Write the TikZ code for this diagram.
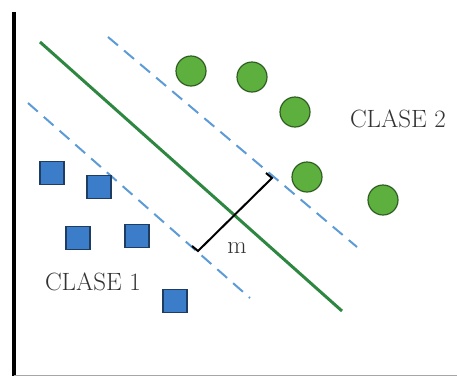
\documentclass[tikz,border=0pt]{standalone}
\usepackage{tikz}
\usepackage{xcolor}
\usetikzlibrary{calc}
\definecolor{clsgreen}{HTML}{5EB03E}
\definecolor{clsgreendark}{HTML}{2F5E22}
\definecolor{clsblue}{HTML}{3B7DC8}
\definecolor{clsbluedark}{HTML}{1F3C63}
\definecolor{hyper}{HTML}{2E8741}
\definecolor{marg}{HTML}{5C9BD6}
\definecolor{txt}{HTML}{333333}

\begin{document}
\begin{tikzpicture}[
    x=1pt, y=-1pt,
    every node/.style={font=\fontsize{25}{30}\selectfont, text=txt, inner sep=0pt},
    dot/.style={circle, draw=clsgreendark, line width=1.2pt, fill=clsgreen, minimum size=30pt},
    sq/.style={rectangle, draw=clsbluedark, line width=1.2pt, fill=clsblue, minimum width=24pt, minimum height=23pt},
    hyp/.style={hyper, line width=3pt},
    mrg/.style={marg, line width=2pt, dash pattern=on 13pt off 8pt},
    gap/.style={black, line width=2pt},
  ]
  \useasboundingbox (0,0) rectangle (457,376);

  \draw[line width=3.5pt] (14,12) -- (14,376);
  \draw[gray!70, line width=1pt] (14,375.5) -- (457,375.5);

  \coordinate (h1) at (40,42);
  \coordinate (h2) at (342,311);
  \coordinate (u1) at (108,37);
  \coordinate (u2) at (357,247);
  \coordinate (l1) at (28,103);
  \coordinate (l2) at (250,298);

  \draw[mrg] (u1) -- (u2);
  \draw[mrg] (l1) -- (l2);
  \draw[hyp] (h1) -- (h2);

  \coordinate (m1) at (272,178);
  \coordinate (m2) at (198,251);
  \draw[gap] ($(m1)+(-6,-5)$) -- (m1) -- (m2) -- ($(m2)+(-6,-5)$);
  \node (m) at (237,248) {m};

  \node[dot] (c1) at (191,71) {};
  \node[dot] (c2) at (252,77) {};
  \node[dot] (c3) at (295,112) {};
  \node[dot] (c4) at (307,177) {};
  \node[dot] (c5) at (383,200) {};

  \node[sq] (s1) at (52,173) {};
  \node[sq] (s2) at (99,187) {};
  \node[sq] (s3) at (78,238) {};
  \node[sq] (s4) at (137,236) {};
  \node[sq] (s5) at (175,301) {};

  \node (cl2) at (398,119) {CLASE 2};
  \node (cl1) at (93,282) {CLASE 1};
\end{tikzpicture}
\end{document}
